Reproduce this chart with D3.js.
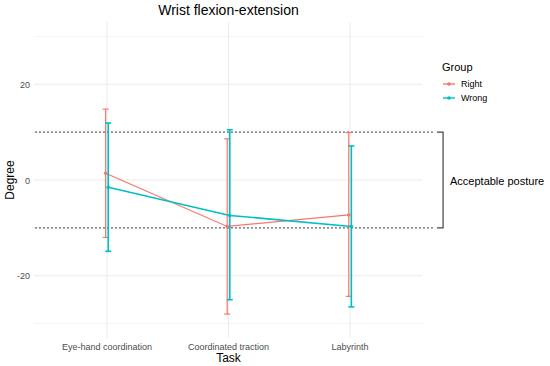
<!DOCTYPE html>
<html>
<head>
<meta charset="utf-8">
<script src="https://cdn.jsdelivr.net/npm/d3@7"></script>
<style>
  body { margin: 0; background: #fff; }
  svg { font-family: "Liberation Sans", Arial, sans-serif; display: block; }
</style>
</head>
<body>
<script>
// data
const tasks = ["Eye-hand coordination", "Coordinated traction", "Labyrinth"];
const groups = ["Right", "Wrong"];
const rightMean = [1.4, -9.7, -7.3];
const rightLow = [-12.0, -28.0, -24.3];
const rightHigh = [14.8, 8.6, 9.9];
const wrongMean = [-1.5, -7.4, -9.7];
const wrongLow = [-14.9, -25.0, -26.5];
const wrongHigh = [11.9, 10.5, 7.1];
const yTicks = [-20, 0, 20];
const yMinor = [-30, -10, 10, 30];
const band = [-10, 10];
const colors = { Right: "#F8766D", Wrong: "#00BFC4" };

const width = 550, height = 366;
const panel = { left: 34, right: 423, top: 22, bottom: 338 };

const svg = d3.select("body").append("svg").attr("width", width).attr("height", height);

// x is a continuous version of the discrete scale (ggplot expands 0.6 each side)
const x = d3.scaleLinear().domain([0.4, tasks.length + 0.6]).range([panel.left, panel.right]);
const y = d3.scaleLinear().domain([-33, 33]).range([panel.bottom, panel.top]);

// grid
svg.selectAll(".minor").data(yMinor).enter().append("line")
  .attr("x1", panel.left).attr("x2", panel.right)
  .attr("y1", d => y(d)).attr("y2", d => y(d))
  .attr("stroke", "#F2F2F2").attr("stroke-width", 0.8);
svg.selectAll(".major").data(yTicks).enter().append("line")
  .attr("x1", panel.left).attr("x2", panel.right)
  .attr("y1", d => y(d)).attr("y2", d => y(d))
  .attr("stroke", "#EBEBEB").attr("stroke-width", 1);
svg.selectAll(".vgrid").data(tasks).enter().append("line")
  .attr("x1", (d, i) => x(i + 1)).attr("x2", (d, i) => x(i + 1))
  .attr("y1", panel.top).attr("y2", panel.bottom)
  .attr("stroke", "#EBEBEB").attr("stroke-width", 1);

// acceptable posture band
svg.selectAll(".band").data(band).enter().append("line")
  .attr("x1", x(0.41)).attr("x2", x(3.7))
  .attr("y1", d => y(d)).attr("y2", d => y(d))
  .attr("stroke", "#333").attr("stroke-width", 1.2)
  .attr("stroke-dasharray", "1.5,2.5");
const bx = x(3.765);
svg.append("path")
  .attr("d", "M" + x(3.715) + "," + y(band[1]) + "H" + bx + "V" + y(band[0]) + "H" + x(3.715))
  .attr("fill", "none").attr("stroke", "#444").attr("stroke-width", 1.2);
svg.append("text").attr("x", 450).attr("y", y(0) + 4.5)
  .attr("font-size", 11).attr("fill", "#000").text("Acceptable posture");

// series
const series = [
  { name: "Right", mean: rightMean, low: rightLow, high: rightHigh, dx: -1.3, w: 1.2 },
  { name: "Wrong", mean: wrongMean, low: wrongLow, high: wrongHigh, dx: 1.3, w: 1.6 }
];

series.forEach(s => {
  const g = svg.append("g");
  const col = colors[s.name];
  const pts = s.mean.map((m, i) => ({ i: i + 1, m: m, lo: s.low[i], hi: s.high[i] }));

  g.append("path").datum(pts)
    .attr("d", d3.line().x(d => x(d.i) + s.dx).y(d => y(d.m)))
    .attr("fill", "none").attr("stroke", col).attr("stroke-width", s.w);

  const eb = g.selectAll(".eb").data(pts).enter().append("g");
  eb.append("line")
    .attr("x1", d => x(d.i) + s.dx).attr("x2", d => x(d.i) + s.dx)
    .attr("y1", d => y(d.lo)).attr("y2", d => y(d.hi))
    .attr("stroke", col).attr("stroke-width", s.w);
  eb.append("line")
    .attr("x1", d => x(d.i) + s.dx - 3).attr("x2", d => x(d.i) + s.dx + 3)
    .attr("y1", d => y(d.lo)).attr("y2", d => y(d.lo))
    .attr("stroke", col).attr("stroke-width", s.w);
  eb.append("line")
    .attr("x1", d => x(d.i) + s.dx - 3).attr("x2", d => x(d.i) + s.dx + 3)
    .attr("y1", d => y(d.hi)).attr("y2", d => y(d.hi))
    .attr("stroke", col).attr("stroke-width", s.w);

  g.selectAll(".pt").data(pts).enter().append("circle")
    .attr("cx", d => x(d.i) + s.dx).attr("cy", d => y(d.m))
    .attr("r", 1.8).attr("fill", col);
});

// y axis labels
svg.selectAll(".ytick").data(yTicks).enter().append("text")
  .attr("x", 30).attr("y", d => y(d) + 3.5)
  .attr("text-anchor", "end").attr("font-size", 9).attr("fill", "#4D4D4D")
  .text(d => d);

// x axis labels
svg.selectAll(".xtick").data(tasks).enter().append("text")
  .attr("x", (d, i) => x(i + 1)).attr("y", 350)
  .attr("text-anchor", "middle").attr("font-size", 9).attr("fill", "#4D4D4D")
  .text(d => d);

// titles
svg.append("text").attr("x", x(2)).attr("y", 362)
  .attr("text-anchor", "middle").attr("font-size", 12).text("Task");
svg.append("text").attr("transform", "translate(14," + y(0) + ") rotate(-90)")
  .attr("text-anchor", "middle").attr("font-size", 12).text("Degree");
svg.append("text").attr("x", x(2)).attr("y", 15)
  .attr("text-anchor", "middle").attr("font-size", 14).text("Wrist flexion-extension");

// legend
const leg = svg.append("g");
leg.append("text").attr("x", 442).attr("y", 71).attr("font-size", 11).text("Group");
groups.forEach((gname, k) => {
  const ly = 84 + k * 14;
  leg.append("line").attr("x1", 443).attr("x2", 455).attr("y1", ly).attr("y2", ly)
    .attr("stroke", colors[gname]).attr("stroke-width", 1.4);
  leg.append("circle").attr("cx", 449).attr("cy", ly).attr("r", 1.8).attr("fill", colors[gname]);
  leg.append("text").attr("x", 461).attr("y", ly + 3.2).attr("font-size", 9).attr("fill", "#000").text(gname);
});
</script>
</body>
</html>
